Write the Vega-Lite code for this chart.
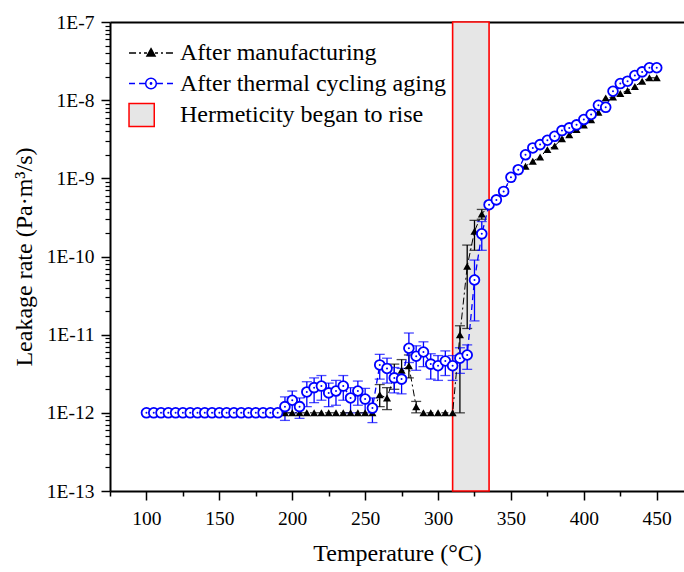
{
  "$schema": "https://vega.github.io/schema/vega-lite/v6.json",
  "autosize": {"type": "none"},
  "padding": {"left": 110, "top": 22, "right": 0, "bottom": 81},
  "width": 574,
  "height": 469,
  "background": "white",
  "config": {
    "view": {"stroke": null},
    "font": "Liberation Serif",
    "axis": {"labelFont": "Liberation Serif", "titleFont": "Liberation Serif", "labelColor": "black", "titleColor": "black", "domainColor": "black", "tickColor": "black", "grid": false, "titleFontWeight": "normal"},
    "legend": {"padding": 0}
  },
  "datasets": {
    "band": [{"t0": 310, "t1": 335}],
    "mfg": [
      {"T": 195, "v": 1e-12}, {"T": 200, "v": 1e-12}, {"T": 205, "v": 1e-12}, {"T": 210, "v": 1e-12},
      {"T": 215, "v": 1e-12}, {"T": 220, "v": 1e-12}, {"T": 225, "v": 1e-12}, {"T": 230, "v": 1e-12},
      {"T": 235, "v": 1e-12}, {"T": 240, "v": 1e-12}, {"T": 245, "v": 1e-12}, {"T": 250, "v": 1e-12},
      {"T": 255, "v": 1e-12},
      {"T": 260, "v": 1.7e-12, "lo": 1.2e-12, "hi": 2.3e-12},
      {"T": 265, "v": 1.55e-12, "lo": 1.1e-12, "hi": 2.1e-12},
      {"T": 270, "v": 3.0e-12, "lo": 2.0e-12, "hi": 4.2e-12},
      {"T": 275, "v": 3.5e-12, "lo": 2.5e-12, "hi": 4.8e-12},
      {"T": 280, "v": 4.0e-12, "lo": 2.8e-12, "hi": 5.5e-12},
      {"T": 285, "v": 1.2e-12, "lo": 1.0e-12, "hi": 1.4e-12},
      {"T": 290, "v": 1e-12}, {"T": 295, "v": 1e-12}, {"T": 300, "v": 1e-12}, {"T": 305, "v": 1e-12},
      {"T": 310, "v": 1e-12},
      {"T": 315, "v": 1.0e-11, "lo": 1.0e-12, "hi": 1.3e-11},
      {"T": 320, "v": 7.5e-11, "lo": 1.2e-11, "hi": 1.4e-10},
      {"T": 325, "v": 2.1e-10, "lo": 1.2e-10, "hi": 2.9e-10},
      {"T": 330, "v": 3.5e-10, "lo": 3.0e-10, "hi": 4.0e-10},
      {"T": 335, "v": 4.5e-10}, {"T": 340, "v": 5.3e-10}, {"T": 345, "v": 6.8e-10}, {"T": 350, "v": 1.0e-9},
      {"T": 355, "v": 1.25e-9}, {"T": 360, "v": 1.43e-9}, {"T": 365, "v": 1.65e-9}, {"T": 370, "v": 1.88e-9},
      {"T": 375, "v": 2.33e-9}, {"T": 380, "v": 2.6e-9}, {"T": 385, "v": 3.2e-9}, {"T": 390, "v": 3.6e-9},
      {"T": 395, "v": 4.2e-9}, {"T": 400, "v": 4.8e-9}, {"T": 405, "v": 5.6e-9}, {"T": 410, "v": 7.0e-9},
      {"T": 415, "v": 1.07e-8}, {"T": 420, "v": 1.1e-8}, {"T": 425, "v": 1.22e-8}, {"T": 430, "v": 1.33e-8},
      {"T": 435, "v": 1.5e-8}, {"T": 440, "v": 1.75e-8}, {"T": 445, "v": 1.93e-8}, {"T": 450, "v": 1.93e-8}
    ],
    "aging": [
      {"T": 100, "v": 1e-12}, {"T": 105, "v": 1e-12}, {"T": 110, "v": 1e-12}, {"T": 115, "v": 1e-12},
      {"T": 120, "v": 1e-12}, {"T": 125, "v": 1e-12}, {"T": 130, "v": 1e-12}, {"T": 135, "v": 1e-12},
      {"T": 140, "v": 1e-12}, {"T": 145, "v": 1e-12}, {"T": 150, "v": 1e-12}, {"T": 155, "v": 1e-12},
      {"T": 160, "v": 1e-12}, {"T": 165, "v": 1e-12}, {"T": 170, "v": 1e-12}, {"T": 175, "v": 1e-12},
      {"T": 180, "v": 1e-12}, {"T": 185, "v": 1e-12}, {"T": 190, "v": 1e-12},
      {"T": 195, "v": 1.2e-12, "lo": 0.8e-12, "hi": 1.6e-12},
      {"T": 200, "v": 1.45e-12, "lo": 1.0e-12, "hi": 1.9e-12},
      {"T": 205, "v": 1.2e-12, "lo": 0.85e-12, "hi": 1.55e-12},
      {"T": 210, "v": 1.85e-12, "lo": 1.2e-12, "hi": 2.5e-12},
      {"T": 215, "v": 2.1e-12, "lo": 1.35e-12, "hi": 2.8e-12},
      {"T": 220, "v": 2.2e-12, "lo": 1.45e-12, "hi": 3.0e-12},
      {"T": 225, "v": 1.8e-12, "lo": 1.2e-12, "hi": 2.4e-12},
      {"T": 230, "v": 1.9e-12, "lo": 1.25e-12, "hi": 2.6e-12},
      {"T": 235, "v": 2.2e-12, "lo": 1.45e-12, "hi": 3.0e-12},
      {"T": 240, "v": 1.55e-12, "lo": 1.0e-12, "hi": 2.1e-12},
      {"T": 245, "v": 1.9e-12, "lo": 1.25e-12, "hi": 2.55e-12},
      {"T": 250, "v": 1.5e-12, "lo": 1.0e-12, "hi": 2.05e-12},
      {"T": 255, "v": 1.15e-12, "lo": 0.75e-12, "hi": 1.55e-12},
      {"T": 260, "v": 4.1e-12, "lo": 2.7e-12, "hi": 5.6e-12},
      {"T": 265, "v": 3.7e-12, "lo": 2.4e-12, "hi": 5.0e-12},
      {"T": 270, "v": 2.8e-12, "lo": 1.8e-12, "hi": 3.8e-12},
      {"T": 275, "v": 2.7e-12, "lo": 1.75e-12, "hi": 3.7e-12},
      {"T": 280, "v": 6.7e-12, "lo": 4.4e-12, "hi": 1.05e-11},
      {"T": 285, "v": 5.3e-12, "lo": 3.5e-12, "hi": 7.2e-12},
      {"T": 290, "v": 6.0e-12, "lo": 3.9e-12, "hi": 8.1e-12},
      {"T": 295, "v": 4.2e-12, "lo": 2.7e-12, "hi": 5.7e-12},
      {"T": 300, "v": 4.0e-12, "lo": 2.6e-12, "hi": 5.4e-12},
      {"T": 305, "v": 4.6e-12, "lo": 3.0e-12, "hi": 6.2e-12},
      {"T": 310, "v": 4.0e-12, "lo": 2.6e-12, "hi": 5.4e-12},
      {"T": 315, "v": 5.0e-12, "lo": 3.2e-12, "hi": 6.8e-12},
      {"T": 320, "v": 5.5e-12, "lo": 3.6e-12, "hi": 7.4e-12},
      {"T": 325, "v": 5.0e-11, "lo": 1.5e-11, "hi": 9.0e-11},
      {"T": 330, "v": 1.95e-10, "lo": 1.2e-10, "hi": 2.8e-10},
      {"T": 335, "v": 4.6e-10}, {"T": 340, "v": 5.3e-10}, {"T": 345, "v": 6.8e-10}, {"T": 350, "v": 1.03e-9},
      {"T": 355, "v": 1.29e-9}, {"T": 360, "v": 2.0e-9}, {"T": 365, "v": 2.45e-9}, {"T": 370, "v": 2.7e-9},
      {"T": 375, "v": 3.07e-9}, {"T": 380, "v": 3.45e-9}, {"T": 385, "v": 4.08e-9}, {"T": 390, "v": 4.42e-9},
      {"T": 395, "v": 4.83e-9}, {"T": 400, "v": 5.65e-9}, {"T": 405, "v": 6.55e-9}, {"T": 410, "v": 8.6e-9},
      {"T": 415, "v": 8.1e-9}, {"T": 420, "v": 1.3e-8}, {"T": 425, "v": 1.63e-8}, {"T": 430, "v": 1.75e-8},
      {"T": 435, "v": 2.07e-8}, {"T": 440, "v": 2.3e-8}, {"T": 445, "v": 2.6e-8}, {"T": 450, "v": 2.6e-8}
    ]
  },
  "resolve": {"axis": {"x": "independent", "y": "independent"}},
  "layer": [
    {
      "layer": [
        {
          "data": {"name": "band"},
          "mark": {"type": "rect", "fill": "#e6e6e6", "stroke": "red", "strokeWidth": 1.6},
          "encoding": {
            "x": {
              "field": "t0", "type": "quantitative",
              "scale": {"domain": [75, 468.7], "nice": false, "zero": false},
              "axis": {
                "orient": "bottom", "values": [100, 150, 200, 250, 300, 350, 400, 450],
                "labelFontSize": 19.5, "labelPadding": 9, "tickSize": 9, "tickWidth": 1.5,
                "domainWidth": 2, "title": "Temperature (°C)", "titleFontSize": 24, "titlePadding": 14
              }
            },
            "x2": {"field": "t1"}
          }
        },
        {
          "data": {"name": "mfg"},
          "transform": [{"filter": "isValid(datum.lo)"}],
          "mark": {"type": "rule", "color": "black", "strokeWidth": 1.3},
          "encoding": {
            "x": {"field": "T", "type": "quantitative"},
            "y": {
              "field": "lo", "type": "quantitative",
              "scale": {"type": "log", "domain": [1e-13, 1e-7], "nice": false},
              "axis": {
                "orient": "left", "values": [1e-13, 1e-12, 1e-11, 1e-10, 1e-9, 1e-8, 1e-7],
                "labelExpr": "'1E-' + round(-log(datum.value) / LN10)",
                "labelFontSize": 19.5, "labelPadding": 7, "tickSize": 9, "tickWidth": 1.5,
                "domainWidth": 2, "title": "Leakage rate (Pa·m³/s)", "titleFontSize": 24, "titlePadding": 10
              }
            },
            "y2": {"field": "hi"}
          }
        },
        {
          "data": {"name": "mfg"},
          "transform": [{"filter": "isValid(datum.lo)"}],
          "mark": {"type": "tick", "orient": "horizontal", "color": "black", "size": 10, "thickness": 1.3},
          "encoding": {
            "x": {"field": "T", "type": "quantitative"},
            "y": {"field": "hi", "type": "quantitative"}
          }
        },
        {
          "data": {"name": "mfg"},
          "transform": [{"filter": "isValid(datum.lo)"}],
          "mark": {"type": "tick", "orient": "horizontal", "color": "black", "size": 10, "thickness": 1.3},
          "encoding": {
            "x": {"field": "T", "type": "quantitative"},
            "y": {"field": "lo", "type": "quantitative"}
          }
        },
        {
          "data": {"name": "aging"},
          "transform": [{"filter": "isValid(datum.lo)"}],
          "mark": {"type": "rule", "color": "blue", "strokeWidth": 1.3},
          "encoding": {
            "x": {"field": "T", "type": "quantitative"},
            "y": {"field": "lo", "type": "quantitative"},
            "y2": {"field": "hi"}
          }
        },
        {
          "data": {"name": "aging"},
          "transform": [{"filter": "isValid(datum.lo)"}],
          "mark": {"type": "tick", "orient": "horizontal", "color": "blue", "size": 10, "thickness": 1.3},
          "encoding": {
            "x": {"field": "T", "type": "quantitative"},
            "y": {"field": "hi", "type": "quantitative"}
          }
        },
        {
          "data": {"name": "aging"},
          "transform": [{"filter": "isValid(datum.lo)"}],
          "mark": {"type": "tick", "orient": "horizontal", "color": "blue", "size": 10, "thickness": 1.3},
          "encoding": {
            "x": {"field": "T", "type": "quantitative"},
            "y": {"field": "lo", "type": "quantitative"}
          }
        },
        {
          "data": {"name": "mfg"},
          "mark": {"type": "line", "color": "black", "strokeWidth": 1, "strokeDash": [7, 3, 2, 3]},
          "encoding": {
            "x": {"field": "T", "type": "quantitative"},
            "y": {"field": "v", "type": "quantitative"}
          }
        },
        {
          "data": {"name": "aging"},
          "mark": {"type": "line", "color": "blue", "strokeWidth": 1.3, "strokeDash": [6, 4]},
          "encoding": {
            "x": {"field": "T", "type": "quantitative"},
            "y": {"field": "v", "type": "quantitative"}
          }
        },
        {
          "data": {"name": "mfg"},
          "mark": {"type": "point", "shape": "triangle-up", "filled": true, "color": "black", "size": 65, "opacity": 1},
          "encoding": {
            "x": {"field": "T", "type": "quantitative"},
            "y": {"field": "v", "type": "quantitative"}
          }
        },
        {
          "data": {"name": "aging"},
          "mark": {"type": "point", "shape": "circle", "filled": false, "fill": "white", "fillOpacity": 1, "stroke": "blue", "strokeWidth": 1.8, "size": 95, "opacity": 1},
          "encoding": {
            "x": {"field": "T", "type": "quantitative"},
            "y": {"field": "v", "type": "quantitative"}
          }
        },
        {
          "data": {"name": "aging"},
          "mark": {"type": "point", "shape": "circle", "filled": true, "color": "blue", "size": 4, "opacity": 1},
          "encoding": {
            "x": {"field": "T", "type": "quantitative"},
            "y": {"field": "v", "type": "quantitative"}
          }
        },
        {
          "data": {"values": [{}]},
          "transform": [{"filter": "false"}],
          "mark": {"type": "point", "filled": true, "strokeWidth": 1.5, "size": 676, "opacity": 1},
          "encoding": {
            "shape": {
              "datum": "After manufacturing", "type": "nominal",
              "scale": {
                "domain": ["After manufacturing", "After thermal cycling aging", "Hermeticity began to rise"],
                "range": [
                  "M-1.69,0H-1.15M-0.92,0H-0.77M-0.54,0H-0.31M0.31,0H0.54M0.77,0H0.92M1.15,0H1.69M0,-0.33L0.31,0.24L-0.31,0.24Z",
                  "M-1.69,0H-1.23M-0.92,0H-0.46M0.46,0H0.92M1.23,0H1.69M0.41,0A0.41,0.41,0,1,1,-0.41,0A0.41,0.41,0,1,1,0.41,0ZM0.05,0A0.05,0.05,0,1,1,-0.05,0A0.05,0.05,0,1,1,0.05,0Z",
                  "M-1.69,-0.88H0.25V0.88H-1.69Z"
                ]
              },
              "legend": {
                "orient": "none", "legendX": 27, "legendY": 17, "title": null,
                "labelFontSize": 24, "labelFont": "Liberation Serif", "labelColor": "black", "labelLimit": 0,
                "labelOffset": 15, "symbolSize": 676, "symbolStrokeWidth": 1.5, "rowPadding": 4.5,
                "symbolOpacity": 1
              }
            },
            "fill": {
              "datum": "After manufacturing", "type": "nominal",
              "scale": {
                "domain": ["After manufacturing", "After thermal cycling aging", "Hermeticity began to rise"],
                "range": ["black", "white", "#e6e6e6"]
              }
            },
            "stroke": {
              "datum": "After manufacturing", "type": "nominal",
              "scale": {
                "domain": ["After manufacturing", "After thermal cycling aging", "Hermeticity began to rise"],
                "range": ["black", "blue", "red"]
              }
            }
          }
        }
      ]
    },
    {
      "data": {"values": [{}]},
      "mark": {"type": "rule", "opacity": 0},
      "encoding": {
        "x": {
          "datum": 100, "type": "quantitative",
          "axis": {
            "orient": "bottom", "values": [75, 125, 175, 225, 275, 325, 375, 425],
            "labels": false, "domain": false, "tickSize": 5, "tickWidth": 1.5, "title": null
          }
        },
        "y": {
          "datum": 1e-12, "type": "quantitative",
          "axis": {
            "orient": "left", "labels": false, "domain": false, "tickSize": 5, "tickWidth": 1.2, "title": null,
            "values": [2e-13, 3e-13, 4e-13, 5e-13, 6e-13, 7e-13, 8e-13, 9e-13,
                       2e-12, 3e-12, 4e-12, 5e-12, 6e-12, 7e-12, 8e-12, 9e-12,
                       2e-11, 3e-11, 4e-11, 5e-11, 6e-11, 7e-11, 8e-11, 9e-11,
                       2e-10, 3e-10, 4e-10, 5e-10, 6e-10, 7e-10, 8e-10, 9e-10,
                       2e-9, 3e-9, 4e-9, 5e-9, 6e-9, 7e-9, 8e-9, 9e-9,
                       2e-8, 3e-8, 4e-8, 5e-8, 6e-8, 7e-8, 8e-8, 9e-8]
          }
        }
      }
    },
    {
      "data": {"values": [{}]},
      "mark": {"type": "rule", "opacity": 0},
      "encoding": {
        "x": {
          "datum": 100, "type": "quantitative",
          "axis": {"orient": "top", "labels": false, "ticks": false, "domainWidth": 2, "title": null}
        }
      }
    }
  ]
}
